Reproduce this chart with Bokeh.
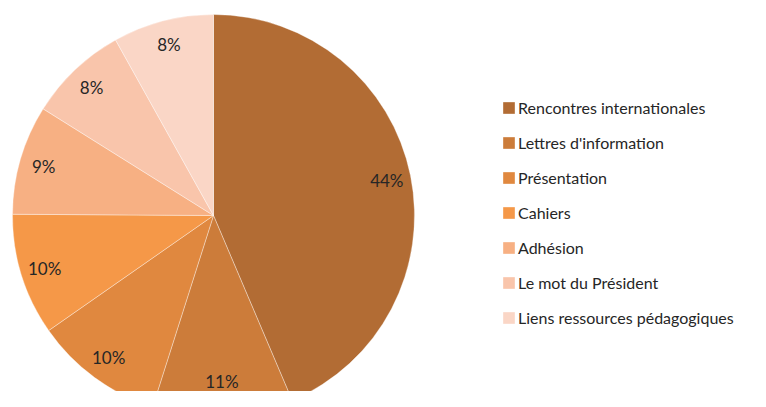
import numpy as np
from bokeh.plotting import figure
from bokeh.models import ColumnDataSource, Legend, LegendItem, Range1d
from bokeh.core.properties import value
from bokeh.embed import file_html
from bokeh.resources import INLINE

categories = ["Rencontres internationales", "Lettres d'information", "Présentation",
              "Cahiers", "Adhésion", "Le mot du Président", "Liens ressources pédagogiques"]
shares = [43.6, 11.3, 10.4, 9.8, 8.8, 8.0, 8.1]
colors = ["#B26C34", "#CC7C3A", "#E0883F", "#F59848", "#F7B083", "#F9C5AB", "#FAD6C6"]

W, H = 750, 391
FONT = "Lato"
p = figure(width=W, height=H, x_range=Range1d(0, W), y_range=Range1d(0, H),
           output_backend="svg", toolbar_location=None, min_border=0)
p.axis.visible = False
p.grid.visible = False
p.outline_line_color = None

cx, cy, R = 213, H - 215, 201

frac = np.array(shares) / sum(shares)
cum = np.cumsum(frac)
prev = cum - frac
start = np.pi / 2 - 2 * np.pi * cum
end = np.pi / 2 - 2 * np.pi * prev
mid = np.pi / 2 - 2 * np.pi * (prev + frac / 2)

lx = cx + 0.88 * R * np.cos(mid)
ly = np.maximum(cy + 0.88 * R * np.sin(mid), 10)

source = ColumnDataSource(dict(
    cat=categories, start=start, end=end, color=colors, lx=lx, ly=ly,
    label=[f"{round(s)}%" for s in shares]))

r = p.wedge(x=cx, y=cy, radius=R, start_angle="start", end_angle="end",
            fill_color="color", line_color="white", line_width=0.6, line_alpha=0.6,
            source=source)

p.text(x="lx", y="ly", text="label", text_align="center", text_baseline="middle",
       text_font=value(FONT), text_font_size="17px", text_color="#262626", source=source)

items = [LegendItem(label=c, renderers=[r], index=i) for i, c in enumerate(categories)]
legend = Legend(items=items, location=(501, 64), glyph_width=15, glyph_height=15,
                label_standoff=2, spacing=16, padding=0, margin=0,
                border_line_color=None, background_fill_alpha=0,
                label_text_font=FONT, label_text_font_size="16px",
                label_text_color="#262626")
p.add_layout(legend)

open("out.html", "w").write(file_html(p, INLINE))
